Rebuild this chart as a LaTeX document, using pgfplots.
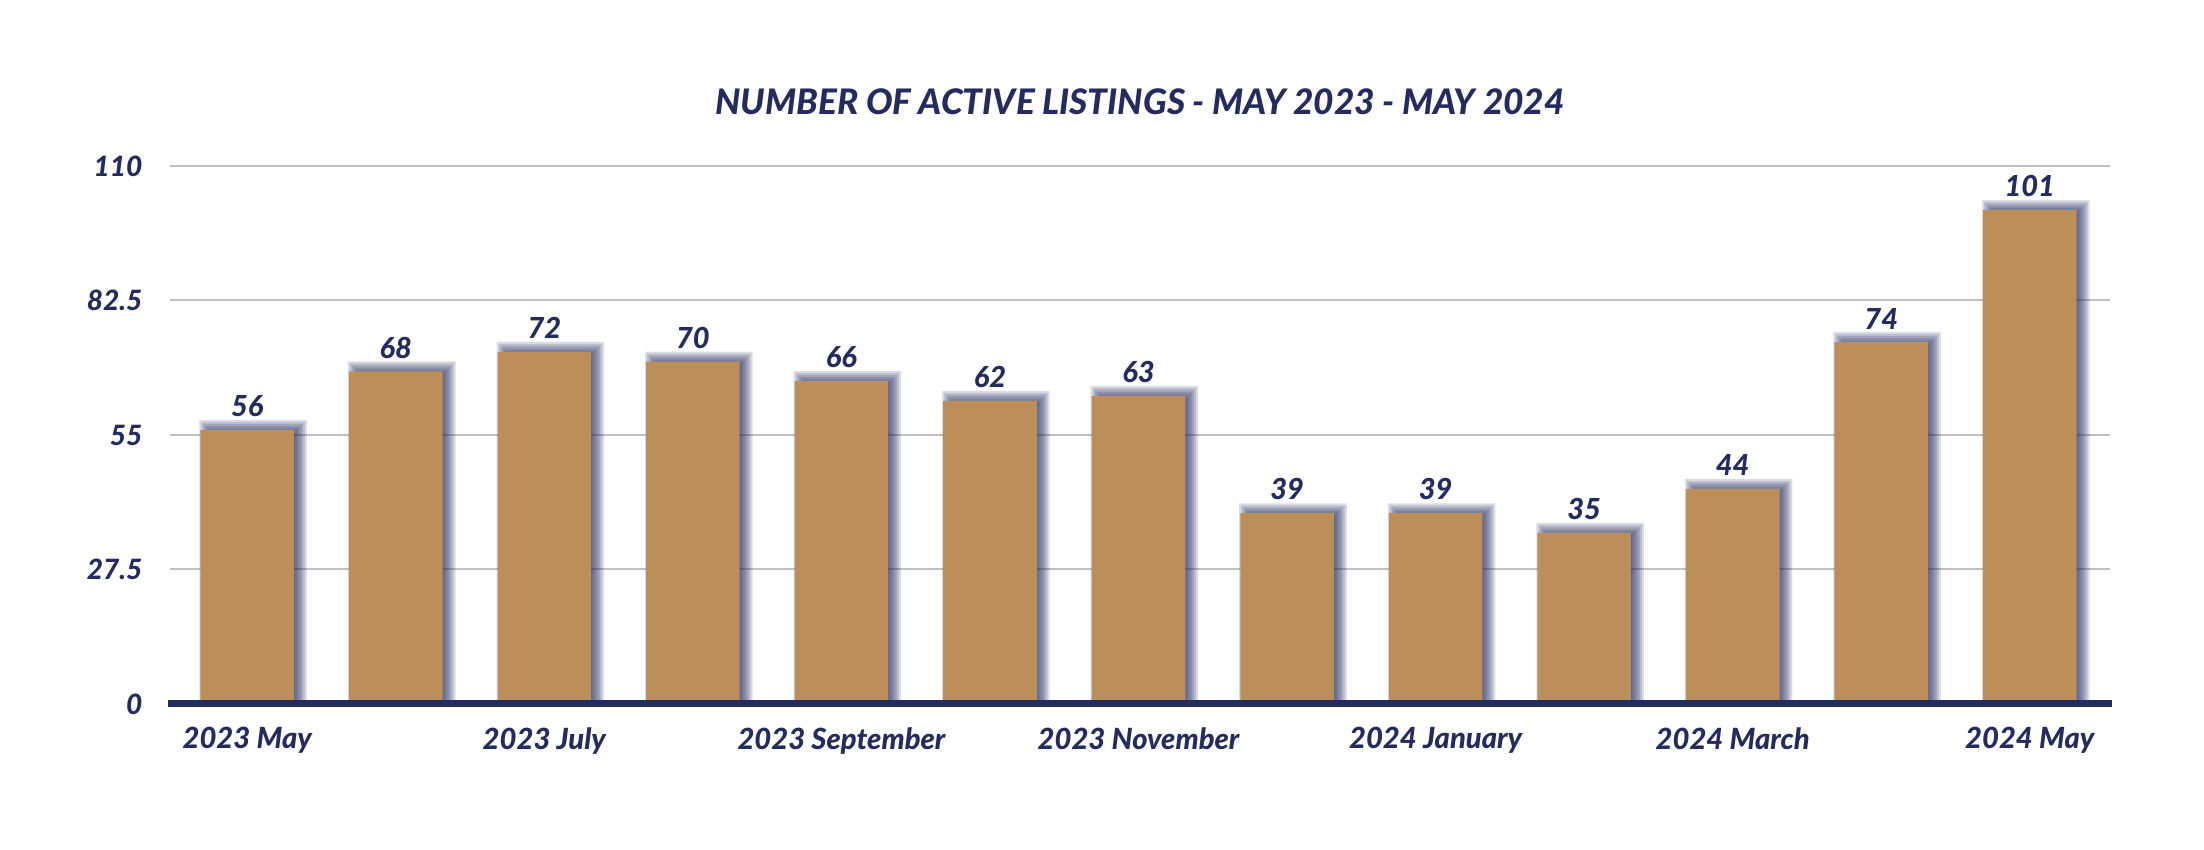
\documentclass[border=0pt]{standalone}
\usepackage{pgfplots}
\pgfplotsset{compat=1.18}
\usepackage{pgfplotstable}
\usepackage{fontspec}
\setmainfont{Lato}[BoldItalicFont={Lato Heavy Italic}]

\definecolor{navy}{RGB}{36,44,94}
\definecolor{bartan}{RGB}{188,143,90}
\definecolor{gridgray}{RGB}{192,192,192}

% active listings, May 2023 -- May 2024
\pgfplotstableread{
idx val
0 56
1 68
2 72
3 70
4 66
5 62
6 63
7 39
8 39
9 35
10 44
11 74
12 101
}\listings

\pgfplotsset{shadowbar/.style={ybar, draw=none, fill=navy, fill opacity=0.17, bar shift=0.04}}

\begin{document}
\begin{tikzpicture}
    \useasboundingbox (-85pt,-73pt) rectangle (1017pt,352pt);
    \begin{axis}[
            scale only axis,
            width=970pt, height=269pt,
            xmin=-0.52, xmax=12.54,
            ymin=0, ymax=110,
            enlargelimits=false,
            clip=false,
            axis line style={draw=none},
            tick style={draw=none},
            ymajorgrids,
            grid style={gridgray, line width=1pt},
            ytick={0,27.5,55,82.5,110},
            yticklabels={0,27.5,55,82.5,110},
            xtick={0,2,4,6,8,10,12},
            xticklabels={2023 May,2023 July,2023 September,2023 November,2024 January,2024 March,2024 May},
            yticklabel style={font=\fontsize{14}{16}\selectfont\bfseries\itshape, text=navy, xshift=-10.3pt},
            xticklabel style={font=\fontsize{14.6}{17}\selectfont\bfseries\itshape, text=navy, yshift=-8.1pt},
            /pgf/number format/assume math mode=true,
            title={NUMBER OF ACTIVE LISTINGS - MAY 2023 - MAY 2024},
            title style={font=\fontsize{17.6}{21}\selectfont\bfseries\itshape, text=navy,
                at={(0.5,1)}, anchor=center, yshift=26pt},
        ]
        % soft navy shadow: stacked translucent layers, a little wider and taller each time
        \addplot[shadowbar, bar width=0.536] table[x=idx, y expr=\thisrow{val}-0.82] {\listings};
        \addplot[shadowbar, bar width=0.563] table[x=idx, y expr=\thisrow{val}-0.41] {\listings};
        \addplot[shadowbar, bar width=0.590] table[x=idx, y expr=\thisrow{val}] {\listings};
        \addplot[shadowbar, bar width=0.617] table[x=idx, y expr=\thisrow{val}+0.41] {\listings};
        \addplot[shadowbar, bar width=0.644] table[x=idx, y expr=\thisrow{val}+0.81] {\listings};
        \addplot[shadowbar, bar width=0.670] table[x=idx, y expr=\thisrow{val}+1.22] {\listings};
        \addplot[shadowbar, bar width=0.697] table[x=idx, y expr=\thisrow{val}+1.63] {\listings};
        \addplot[shadowbar, bar width=0.724] table[x=idx, y expr=\thisrow{val}+2.04] {\listings};

        \addplot[ybar, draw=none, fill=bartan, bar width=0.63,
            nodes near coords,
            nodes near coords style={font=\fontsize{14.5}{17}\selectfont\bfseries\itshape, text=navy, yshift=3pt}]
            table[x=idx, y=val] {\listings};

        \draw[navy, line width=3.5pt] (rel axis cs:-0.001,0) -- (rel axis cs:1.001,0);
    \end{axis}
\end{tikzpicture}
\end{document}
